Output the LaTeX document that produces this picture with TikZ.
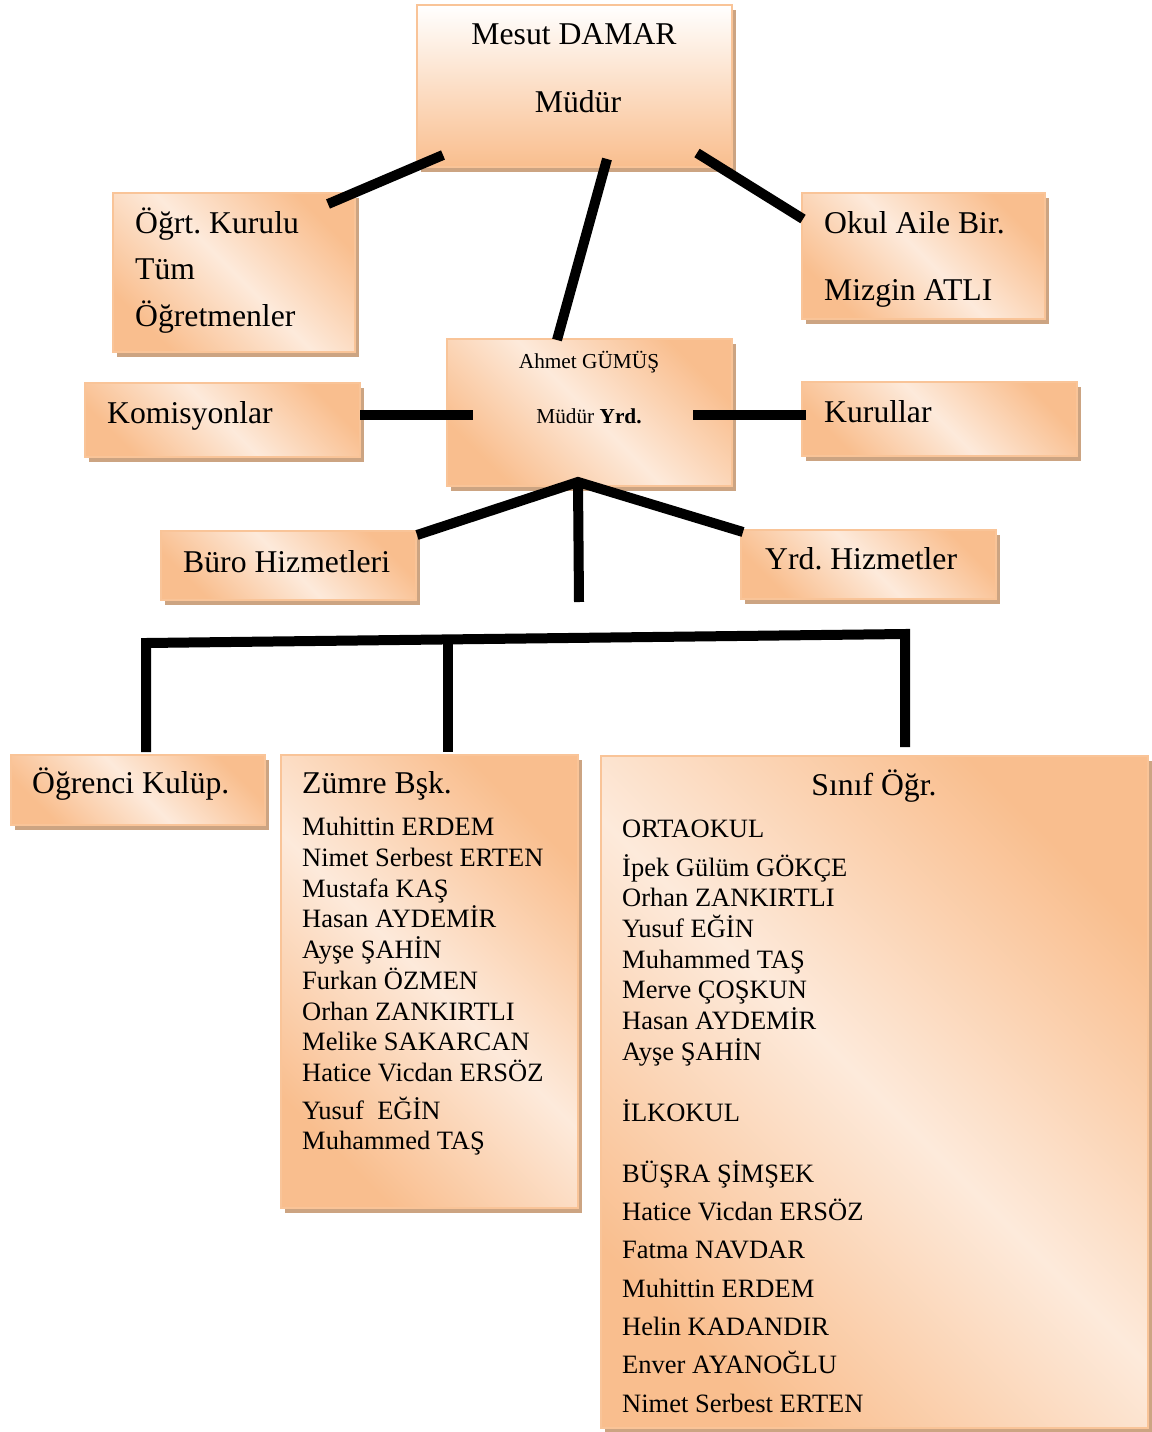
\documentclass[tikz,border=0pt]{standalone}
\usepackage{fontspec}
\setmainfont{Liberation Serif}
\usepackage{xcolor}
\usepackage{tikz}
\usetikzlibrary{shadows, positioning, calc}
\frenchspacing

\definecolor{peach}{RGB}{249,190,142}
\definecolor{peachlight}{RGB}{253,234,219}
\definecolor{peachline}{RGB}{249,196,152}
\definecolor{peachshadow}{RGB}{204,164,130}

\newcommand{\bigfont}{\fontsize{31.7}{38}\selectfont}
\newcommand{\listfont}{\fontsize{26.5}{31}\selectfont}
\newcommand{\smallfont}{\fontsize{21.3}{26}\selectfont}

\begin{document}
\begin{tikzpicture}[x=1pt, y=-1pt,
		box/.style={draw=peachline, line width=1.5pt, inner sep=0pt, outer sep=0pt, anchor=north west,
			top color=peach, bottom color=peach, middle color=peachlight, shading angle=-45,
			drop shadow={shadow xshift=4pt, shadow yshift=-5pt, fill=peachshadow, opacity=1}},
		topbox/.style={box, top color=white, bottom color=peach, shading angle=0},
		link/.style={line width=10pt},
		txt/.style={anchor=base west, inner sep=0pt},
		ctxt/.style={anchor=base, inner sep=0pt}]
				\useasboundingbox (0,0) rectangle (1151,1432);
				
				% Boxes
				\node[topbox, minimum width=315pt, minimum height=162pt] (mudur) at (417,5) {};
				\node[box, minimum width=242pt, minimum height=159pt] (ogrt) at (113,193) {};
				\node[box, minimum width=243pt, minimum height=126pt] (okul) at (802,193) {};
				\node[box, minimum width=285pt, minimum height=147pt] (yrd) at (447,339) {};
				\node[box, minimum width=275pt, minimum height=74pt] (komisyon) at (85,383) {};
				\node[box, minimum width=275pt, minimum height=74pt] (kurul) at (802,382) {};
				\node[box, minimum width=255pt, minimum height=69pt] (buro) at (161,531) {};
				\node[box, minimum width=255pt, minimum height=69pt] (hizmet) at (741,530) {};
				\node[box, minimum width=254pt, minimum height=70pt] (kulup) at (11,755) {};
				\node[box, minimum width=297pt, minimum height=453pt] (zumre) at (281,755) {};
				\node[box, minimum width=547pt, minimum height=672pt] (sinif) at (601,756) {};
				
				% Box texts
				\node[ctxt, font=\bigfont] (mudur-ad) at (574,44) {Mesut DAMAR};
				\node[ctxt, font=\bigfont] (mudur-gorev) at (578,112) {Müdür};
				\node[txt, font=\bigfont] (ogrt-1) at (135,233) {Öğrt. Kurulu};
				\node[txt, font=\bigfont] (ogrt-2) at (135,279) {Tüm};
				\node[txt, font=\bigfont] (ogrt-3) at (135,326) {Öğretmenler};
				\node[txt, font=\bigfont] (okul-1) at (824,233) {Okul Aile Bir.};
				\node[txt, font=\bigfont] (okul-2) at (824,300) {Mizgin ATLI};
				\node[ctxt, font=\smallfont] (yrd-ad) at (589,368) {Ahmet GÜMÜŞ};
				\node[ctxt, font=\smallfont] (yrd-gorev) at (589,423) {Müdür \textbf{Yrd.}};
				\node[txt, font=\bigfont] (komisyon-ad) at (107,423) {Komisyonlar};
				\node[txt, font=\bigfont] (kurul-ad) at (824,422) {Kurullar};
				\node[txt, font=\bigfont] (buro-ad) at (183,572) {Büro Hizmetleri};
				\node[txt, font=\bigfont] (hizmet-ad) at (765,569) {Yrd. Hizmetler};
				\node[txt, font=\bigfont] (kulup-ad) at (32,793) {Öğrenci Kulüp.};
				\node[txt, font=\bigfont] (zumre-ad) at (302,793) {Zümre Bşk.};
				\node[ctxt, font=\bigfont] (sinif-ad) at (874,795) {Sınıf Öğr.};
				
				% Zumre list
				\foreach \ad/\y [count=\i] in {Muhittin ERDEM/835, Nimet Serbest ERTEN/866, Mustafa KAŞ/897,
					Hasan AYDEMİR/927, Ayşe ŞAHİN/958, Furkan ÖZMEN/989, Orhan ZANKIRTLI/1020,
					Melike SAKARCAN/1050, Hatice Vicdan ERSÖZ/1081, Yusuf\ \ EĞİN/1119, Muhammed TAŞ/1149}
					\node[txt, font=\listfont] (zumre-\i) at (302,\y) {\ad};
				
				% Sinif list
				\foreach \ad/\y [count=\i] in {ORTAOKUL/837, İpek Gülüm GÖKÇE/876, Orhan ZANKIRTLI/906,
					Yusuf EĞİN/937, Muhammed TAŞ/968, Merve ÇOŞKUN/998, Hasan AYDEMİR/1029,
					Ayşe ŞAHİN/1060, İLKOKUL/1121, BÜŞRA ŞİMŞEK/1182, Hatice Vicdan ERSÖZ/1220,
					Fatma NAVDAR/1258, Muhittin ERDEM/1297, Helin KADANDIR/1335,
					Enver AYANOĞLU/1373, Nimet Serbest ERTEN/1412}
					\node[txt, font=\listfont] (sinif-\i) at (622,\y) {\ad};
				
				% Connector ends
				\coordinate (mudur-sol) at (443,155);
				\coordinate (mudur-alt) at (607,159);
				\coordinate (mudur-sag) at (697,153);
				\coordinate (ogrt-uc) at (328,204);
				\coordinate (yrd-ust) at (557,340);
				\coordinate (okul-uc) at (803,219);
				\coordinate (yrd-sol) at (473,415);
				\coordinate (yrd-sag) at (693,415);
				\coordinate (komisyon-uc) at (360,415);
				\coordinate (kurul-uc) at (806,415);
				\coordinate (yrd-alt) at (578,482);
				\coordinate (buro-uc) at (417,535);
				\coordinate (hizmet-uc) at (743,532);
				\coordinate (dikey-alt) at (579,602);
				\coordinate (bus-sol) at (146,643);
				\coordinate (bus-orta) at (448,641);
				\coordinate (bus-sag) at (905,634);
				\coordinate (kulup-uc) at (146,752);
				\coordinate (zumre-uc) at (448,752);
				\coordinate (sinif-uc) at (905,747);
				
				% Connectors
				\draw[link] (mudur-sol) -- (ogrt-uc);
				\draw[link] (mudur-alt) -- (yrd-ust);
				\draw[link] (mudur-sag) -- (okul-uc);
				\draw[link] (komisyon-uc) -- (yrd-sol);
				\draw[link] (yrd-sag) -- (kurul-uc);
				\draw[link] (buro-uc) -- (yrd-alt) -- (hizmet-uc);
				\draw[link] (yrd-alt) -- (dikey-alt);
				\draw[link] (kulup-uc) -- (bus-sol) -- (bus-sag) -- (sinif-uc);
				\draw[link] (bus-orta) -- (zumre-uc);
\end{tikzpicture}
\end{document}
